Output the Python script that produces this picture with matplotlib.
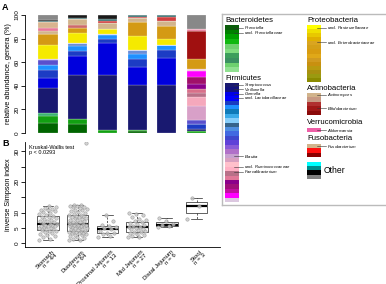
import matplotlib
matplotlib.use("Agg")
import matplotlib.pyplot as plt
import numpy as np
from matplotlib.patches import Rectangle

plt.rcParams["font.family"] = ["Liberation Sans", "DejaVu Sans"]
plt.rcParams["mathtext.fontset"] = "custom"
plt.rcParams["mathtext.rm"] = "Liberation Sans"
plt.rcParams["mathtext.it"] = "Liberation Sans:italic"

W, H = 386, 284

sites = ["Stomach", "Duodenum", "Proximal Jejunum", "Mid Jejunum", "Distal Jejunum", "Stool"]
n_samples = [44, 64, 13, 27, 6, 3]

# genera in stacking order (bottom -> top)
genera = [
    "Prevotella", "uncl. Prevotellaceae", "Bacteroidetes other",
    "Streptococcus", "Veillonella", "Gemella", "uncl. Lactobacillaceae",
    "Firmicutes a", "Firmicutes b", "Firmicutes c", "Blautia",
    "uncl. Ruminococcaceae", "Faecalibacterium", "Firmicutes d", "Firmicutes e",
    "Firmicutes f", "Firmicutes g", "Firmicutes h",
    "uncl. Pasteurellaceae", "uncl. Enterobacteriaceae",
    "Bifidobacterium", "Actinobacteria other", "Actinomyces",
    "Akkermansia", "Fusobacterium", "Fusobacteria other",
    "Other a", "Other b", "Other c",
]
genus_colors = [
    "#006400", "#12a012", "#3cb371",
    "#191970", "#0000dd", "#1c3cc4", "#1e90ff",
    "#6a8ed8", "#5a50cd", "#a070d0", "#d8a0c8",
    "#f5a8bc", "#b87088", "#d8708a", "#8b008b",
    "#a0106a", "#ff00ff", "#f0c8d8",
    "#f5ea00", "#d49a14",
    "#a01010", "#cd6a6a", "#d2b48c",
    "#e8799a", "#d9b48f", "#d04040",
    "#3d7070", "#1a1a1a", "#888888",
]

# relative abundance (%) per site, same order as genera
stomach = [8.5, 6.0, 2.8, 21.0, 8.5, 7.0, 4.0, 0, 4.0, 1.4, 0, 0, 0, 0, 0, 0, 0, 0,
           11.5, 10.0, 0, 0, 2.0, 2.5, 5.0, 0, 1.0, 0.8, 4.5]
duodenum = [7.5, 4.0, 0, 37.6, 16.0, 4.4, 4.0, 2.5, 0, 0, 0, 0, 0, 0, 0, 0, 0, 0,
            9.3, 4.0, 0, 2.4, 4.8, 0, 0, 0, 1.5, 2.2, 0]
prox_jejunum = [0, 2.8, 0, 46.6, 27.7, 3.4, 2.8, 1.4, 0, 0, 0, 0, 0, 0, 0, 0, 0, 0,
                4.2, 0, 0, 0, 5.1, 0, 0, 2.0, 1.5, 3.3, 0]
mid_jejunum = [1.4, 1.4, 0, 38.0, 15.5, 7.0, 4.2, 2.8, 0, 0, 0, 0, 0, 0, 0, 0, 0, 0,
               12.7, 11.3, 0, 0, 3.4, 0, 0, 1.4, 1.4, 0, 0]
distal_jejunum = [0, 0, 0, 41.0, 22.6, 7.0, 4.8, 0, 0, 0, 0, 0, 0, 0, 0, 0, 0, 0,
                  5.0, 10.7, 0, 0, 4.8, 0, 0, 2.8, 2.0, 0, 0]
stool = [0, 1.7, 0, 2.0, 0, 3.7, 0, 0, 3.4, 0, 11.9, 7.9, 3.4, 3.7, 4.2, 5.6, 4.8, 2.0,
         0, 9.0, 23.0, 0, 0, 2.0, 0, 0, 0, 0, 12.0]

# inverse Simpson index per sample
simpson_stomach = [1.2, 1.5, 1.9, 2.3, 2.6, 3.0, 3.3, 3.6, 3.9, 4.1, 4.3,
                   4.5, 4.7, 4.9, 5.1, 5.3, 5.5, 5.7, 5.8, 6.0, 6.1, 6.2,
                   6.4, 6.6, 6.9, 7.2, 7.4, 7.7, 7.9, 8.2, 8.5, 8.7, 8.9,
                   9.2, 9.5, 9.8, 10.1, 10.4, 10.7, 11.0, 11.3, 11.6, 11.9, 12.3]
simpson_duodenum = [1.0, 1.2, 1.5, 1.8, 2.1, 2.4, 2.6, 2.8, 3.0, 3.2, 3.4, 3.5, 3.6, 3.8, 3.9, 4.0,
                    4.1, 4.3, 4.5, 4.7, 4.9, 5.0, 5.2, 5.3, 5.5, 5.6, 5.7, 5.8, 5.9, 6.0, 6.1, 6.2,
                    6.3, 6.5, 6.7, 6.9, 7.1, 7.3, 7.5, 7.7, 7.9, 8.1, 8.3, 8.5, 8.7, 8.8, 9.0, 9.1,
                    9.3, 9.5, 9.8, 10.1, 10.4, 10.7, 11.0, 11.2, 11.5, 11.7, 11.9, 12.1, 12.3, 12.4, 12.5, 32.7]
simpson_prox = [2.0, 2.3, 2.9, 3.2, 3.5, 4.1, 4.6, 4.9, 5.3, 5.6, 5.9, 7.2, 9.1]
simpson_mid = [2.0, 2.2, 2.4, 2.6, 2.9, 3.3, 3.6, 3.8, 4.0, 4.3, 4.6, 4.8, 5.0, 5.2,
               5.4, 5.6, 5.9, 6.2, 6.6, 7.0, 7.2, 7.6, 8.0, 8.5, 9.2, 9.6, 10.0]
simpson_distal = [5.3, 5.6, 5.9, 6.3, 7.2, 8.1]
simpson_stool = [7.9, 12.1, 14.6]

# legend swatches
bacteroidetes_cols = ["#0b5d0b", "#008000", "#00a000", "#10b810", "#70d070",
                      "#80dc80", "#3c9e5c", "#3a9060", "#6ed06e", "#90e090"]
firmicutes_cols = ["#191970", "#12127e", "#0000e6", "#0000ff", "#1a3cc0", "#1e90ff",
                   "#0f7ab8", "#3aaae8", "#87cefa", "#36648b", "#4f8fe0", "#4169e1",
                   "#3f48cc", "#6040d8", "#8a5ad8", "#b070c8", "#c8a0d0", "#d8a0c0",
                   "#ffc0cb", "#ffb0c4", "#b87088", "#e07898", "#8b008b", "#a0107a",
                   "#c0109f", "#ff00ff", "#dcc8e0"]
proteobacteria_cols = ["#ffff00", "#f0e000", "#e8c800", "#e0b000", "#daa520", "#d4a017",
                       "#d89c10", "#e0a818", "#d09a20", "#c89010", "#b89a10", "#a89010",
                       "#9a9a10", "#8b8b00"]
actinobacteria_cols = ["#d2b48c", "#c89a84", "#b03030", "#a01818", "#8b0a0a"]
verruco_cols = ["#ee5fa7"]
fuso_cols = ["#d2b48c", "#ff1010", "#8b0000"]
other_cols = ["#00ffff", "#008b8b", "#000000", "#808080"]


def px_axes(fig, x0, y0, x1, y1):
    return fig.add_axes([x0 / W, 1 - y1 / H, (x1 - x0) / W, (y1 - y0) / H])


def swatches(ax, x0, y0, y1, colors, width=13.5):
    h = (y1 - y0) / len(colors)
    for k, c in enumerate(colors):
        ax.add_patch(Rectangle((x0, y0 + k * h), width, h, facecolor=c, lw=0))


def tag(ax, x0, y, text):
    ax.plot([x0, x0 + 9], [y, y], color="#333333", lw=0.4)
    ax.text(x0 + 10, y, text, fontsize=3.1, va="center", ha="left")


fig = plt.figure(figsize=(W / 100, H / 100), dpi=100)
pos = np.arange(1, 7)
xlim = (0.2256, 6.79)

# ---- panel A
axA = px_axes(fig, 25, 15, 220, 133)
ab = np.array([stomach, duodenum, prox_jejunum, mid_jejunum, distal_jejunum, stool], float)
ab = ab / ab.sum(axis=1, keepdims=True) * 100
cum = np.zeros(len(pos))
for j in range(len(genera)):
    axA.bar(pos, ab[:, j], bottom=cum, width=0.64, color=genus_colors[j],
            edgecolor="white", linewidth=0.15)
    cum += ab[:, j]
axA.set_xlim(*xlim)
axA.set_ylim(0, 100)
for s in ["top", "right", "bottom"]:
    axA.spines[s].set_visible(False)
axA.spines["left"].set_linewidth(0.6)
axA.set_xticks([])
axA.set_yticks([0, 20, 40, 60, 80, 100])
axA.tick_params(axis="y", length=3, width=0.6, labelsize=4.6, pad=1, labelrotation=90)
for lab in axA.get_yticklabels():
    lab.set_va("center")
axA.set_ylabel("relative abundance, genera (%)", fontsize=5.2, labelpad=2)

# ---- panel B
axB = px_axes(fig, 25, 142, 220, 247)
simpson = [simpson_stomach, simpson_duodenum, simpson_prox, simpson_mid, simpson_distal, simpson_stool]
axB.boxplot(simpson, positions=pos, widths=0.72, showfliers=False, patch_artist=True,
            boxprops=dict(facecolor="white", edgecolor="#222222", linewidth=0.5),
            medianprops=dict(color="black", linewidth=1.6),
            whiskerprops=dict(color="#222222", linestyle=(0, (3, 2)), linewidth=0.5),
            capprops=dict(color="#222222", linewidth=0.5), capwidths=0.36)
for i, vals in enumerate(simpson):
    k = np.arange(len(vals))
    off = ((k * 0.618034) % 1 - 0.5) * 0.62
    axB.scatter(pos[i] + off, vals, s=6, facecolor="#c8c8c8", edgecolor="#909090",
                linewidth=0.4, alpha=0.8, zorder=3)
axB.set_xlim(*xlim)
axB.set_ylim(-1.2, 33.0)
for s in ["top", "right"]:
    axB.spines[s].set_visible(False)
axB.spines["left"].set_linewidth(0.6)
axB.spines["bottom"].set_linewidth(0.6)
axB.set_xticks([])
axB.set_yticks([0, 5, 10, 15, 20, 25, 30])
axB.set_yticklabels(["0", "5", "10", "", "20", "", "30"])
axB.tick_params(axis="y", length=3, width=0.6, labelsize=4.6, pad=1, labelrotation=90)
for lab in axB.get_yticklabels():
    lab.set_va("center")
axB.set_ylabel("inverse Simpson index", fontsize=5.2, labelpad=2)
for i, (s, n) in enumerate(zip(sites, n_samples)):
    axB.text(pos[i] + 0.12, -1.9, f"{s}\nn = {n}", rotation=45, ha="right", va="top",
             rotation_mode="anchor", multialignment="right", fontsize=4.4,
             linespacing=0.95, clip_on=False)
fig.text(29 / W, 1 - 145 / H, "Kruskal-Wallis test\np < 0.0293", fontsize=4.0,
         va="top", ha="left", linespacing=1.0)

fig.text(2 / W, 1 - 8 / H, "A", fontsize=6.5, weight="bold", va="center")
fig.text(2 / W, 1 - 143 / H, "B", fontsize=6.5, weight="bold", va="center")

# ---- legend
axL = px_axes(fig, 222, 14, 392, 205)
axL.set_xlim(222, 392)
axL.set_ylim(205, 14)
axL.set_xticks([])
axL.set_yticks([])
for s in axL.spines.values():
    s.set_color("#bbbbbb")
    s.set_linewidth(1.0)

title_kw = dict(fontsize=5.6, va="center", ha="left")
axL.text(225, 20.5, "Bacteroidetes", **title_kw)
swatches(axL, 225, 25, 72, bacteroidetes_cols)
tag(axL, 234, 27.5, r"$\mathit{Prevotella}$")
tag(axL, 234, 32.5, r"uncl. $\mathit{Prevotellaceae}$")

axL.text(225, 79, "Firmicutes", **title_kw)
swatches(axL, 225, 83, 202, firmicutes_cols)
tag(axL, 234, 85, r"$\mathit{Streptococcus}$")
tag(axL, 234, 89.3, r"$\mathit{Veillonella}$")
tag(axL, 234, 93.5, r"$\mathit{Gemella}$")
tag(axL, 234, 97.8, r"uncl. $\mathit{Lactobacillaceae}$")
tag(axL, 234, 156, r"$\mathit{Blautia}$")
tag(axL, 234, 167, r"uncl. $\mathit{Ruminococcaceae}$")
tag(axL, 234, 171.5, r"$\mathit{Faecalibacterium}$")

axL.text(307, 20.5, "Proteobacteria", **title_kw)
swatches(axL, 307, 25, 82, proteobacteria_cols)
tag(axL, 317, 27.5, r"uncl. $\mathit{Pasteurellaceae}$")
tag(axL, 317, 42, r"uncl. $\mathit{Enterobacteriaceae}$")

axL.text(307, 89, "Actinobacteria", **title_kw)
swatches(axL, 307, 92.5, 115, actinobacteria_cols)
tag(axL, 317, 95, r"$\mathit{Actinomyces}$")
tag(axL, 317, 108, r"$\mathit{Bifidobacterium}$")

axL.text(307, 122, "Verrucomicrobia", **title_kw)
swatches(axL, 307, 127.8, 132, verruco_cols)
tag(axL, 317, 130, r"$\mathit{Akkermansia}$")

axL.text(307, 139, "Fusobacteria", **title_kw)
swatches(axL, 307, 144, 157, fuso_cols)
tag(axL, 317, 146, r"$\mathit{Fusobacterium}$")

swatches(axL, 307, 161.5, 179, other_cols)
axL.text(324, 170.5, "Other", fontsize=6.2, va="center", ha="left")

fig.savefig("out.png", dpi=100)
